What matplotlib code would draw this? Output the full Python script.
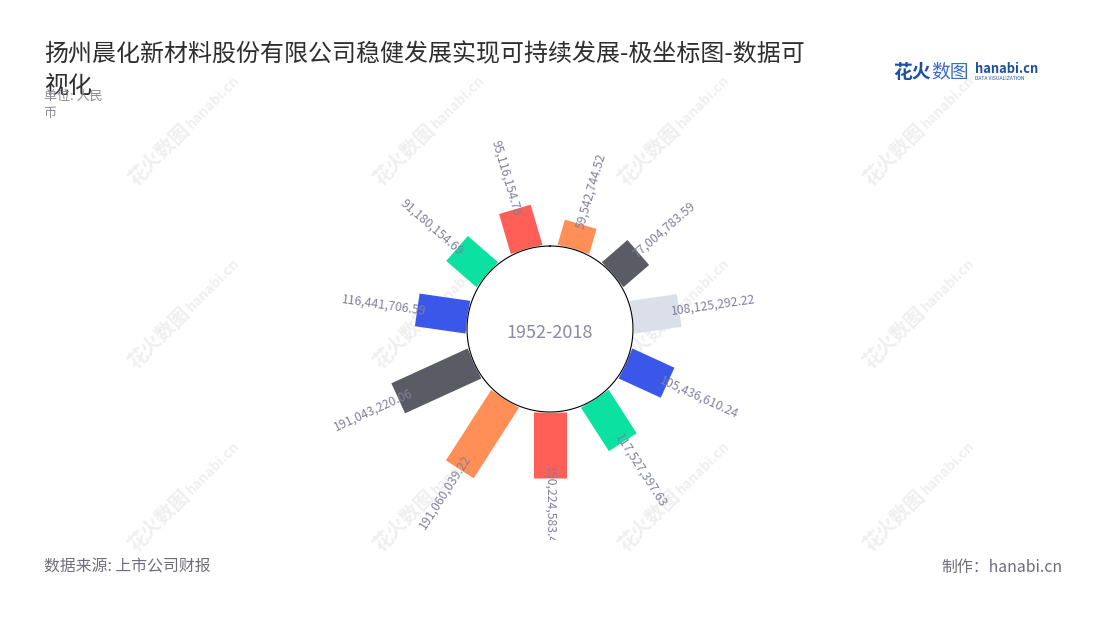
import numpy as np
import matplotlib
matplotlib.use('Agg')
import matplotlib.pyplot as plt
from matplotlib.transforms import Bbox, TransformedBbox

plt.rcParams['font.family'] = ['Noto Sans CJK SC', 'DejaVu Sans']

# ---------------- data ----------------
title_line1 = "扬州晨化新材料股份有限公司稳健发展实现可持续发展-极坐标图-数据可"
title_line2 = "视化"
subtitle_line1 = "单位: 人民"
subtitle_line2 = "币"
source_text = "数据来源: 上市公司财报"
credit_text = "制作：hanabi.cn"
period_label = "1952-2018"

values = [59542744.52, 77004783.59, 108125292.22, 105436610.24, 117527397.63,
          150224583.43, 191060039.22, 191043220.06, 116441706.59, 91180154.69,
          95116154.78]
colors = ['#FF8E57', '#5B5B66', '#DADFEA', '#3A57EA', '#0BE2A1', '#FF5F57',
          '#FF8E57', '#5B5B66', '#3A57EA', '#0BE2A1', '#FF5F57']

# ---------------- figure ----------------
W, H = 1100, 620
fig = plt.figure(figsize=(W / 100, H / 100), dpi=100)
fig.patch.set_facecolor('white')


def fx(x):
    return x / W


def fy(y):
    return 1 - y / H


# watermarks
wm_color = '#EFEFEF'
d = np.array([0.7071, -0.7071])
for wy in [130, 313, 496]:
    for wx in [185, 430, 675, 920]:
        p1 = np.array([wx, wy]) - 36 * d
        p2 = np.array([wx, wy]) + 40 * d
        fig.text(fx(p1[0]), fy(p1[1]), "花火数图", rotation=45, ha='center', va='center',
                 fontsize=14, color=wm_color, fontweight='bold', zorder=-5,
                 rotation_mode='anchor')
        fig.text(fx(p2[0]), fy(p2[1]), "hanabi.cn", rotation=45, ha='center', va='center',
                 fontsize=10, color=wm_color, fontweight='bold', zorder=-5,
                 rotation_mode='anchor')

# polar axes
cx, cy = 550, 329
R_ax = 250
ax = fig.add_axes([fx(cx - R_ax), fy(cy + R_ax), 2 * R_ax / W, 2 * R_ax / H],
                  projection='polar')
ax.set_theta_zero_location('N')
ax.set_theta_direction(-1)
px_per_unit = 0.439 / 1e6
inner_px = 83
base = inner_px / px_per_unit
ax.set_ylim(0, R_ax / px_per_unit)
ax.axis('off')

n = len(values)
theta = (np.arange(n) + 0.5) * 2 * np.pi / n
bar_w_pt = 33 * 72 / 100
for th, v, c in zip(theta, values, colors):
    ax.plot([th, th], [base, base + v], color=c, lw=bar_w_pt,
            solid_capstyle='butt', zorder=2)

tt = np.linspace(0, 2 * np.pi, 721)
ax.fill(tt, np.full_like(tt, base), color='white', zorder=3)
ax.plot(tt, np.full_like(tt, base), color='black', lw=0.8, zorder=4)

clipbox = TransformedBbox(Bbox([[0, fy(540)], [1, 1]]), fig.transFigure)
label_color = '#80809A'
for th, v in zip(theta, values):
    deg = np.degrees(th)
    phi = 90 - deg
    r_lab = base + 0.8 * v + 1.5 / px_per_unit
    if deg <= 180:
        rot, ha = phi, 'left'
    else:
        rot, ha = phi + 180, 'right'
    t = ax.text(th, r_lab, f"{v:,.2f}", rotation=rot, rotation_mode='anchor',
                ha=ha, va='center', fontsize=8.8, color=label_color, zorder=5,
                fontweight='medium', clip_on=True)
    t.set_clip_path(None)
    t.set_clip_box(clipbox)

fig.text(fx(550), fy(333), period_label, ha='center', va='center', fontsize=13,
         color='#8A8AA2')

# titles
fig.text(fx(44), fy(55), title_line1, ha='left', va='center', fontsize=17.25, color='#2E2E2E')
fig.text(fx(44), fy(86), title_line2, ha='left', va='center', fontsize=17.25, color='#2E2E2E')
fig.text(fx(44), fy(96), subtitle_line1, ha='left', va='center', fontsize=9.4, color='#8A8A96')
fig.text(fx(44), fy(113), subtitle_line2, ha='left', va='center', fontsize=9.4, color='#8A8A96')

# footer
fig.text(fx(44), fy(567), source_text, ha='left', va='center', fontsize=11.4, color='#6E6E7A')
fig.text(fx(1062), fy(567), credit_text, ha='right', va='center', fontsize=11.4, color='#6E6E7A')

# logo
fig.text(fx(893), fy(72), "花火", ha='left', va='center', fontsize=13.5, color='#1D4FA3',
         fontweight='bold')
fig.text(fx(931), fy(72), "数图", ha='left', va='center', fontsize=13.5, color='#3C6BC2')
fig.text(fx(975), fy(69), "hanabi.cn", ha='left', va='center', fontsize=9.3, color='#1D4FA3',
         fontweight='bold')
fig.text(fx(975), fy(79), "DATA VISUALIZATION", ha='left', va='center', fontsize=3.6,
         color='#1D4FA3')

fig.savefig('out.png', dpi=100, facecolor='white')
